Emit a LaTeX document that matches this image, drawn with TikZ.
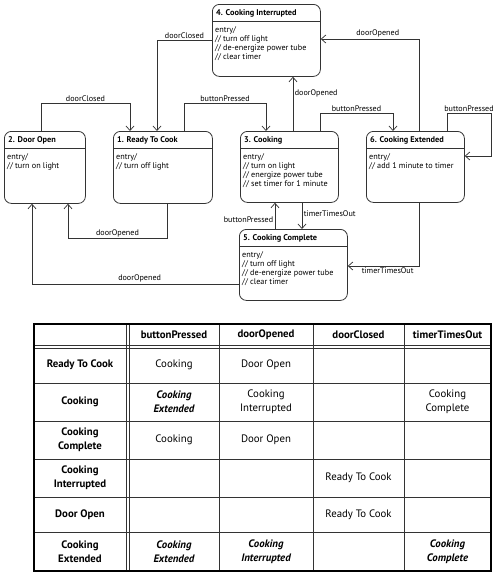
\documentclass[tikz,border=0pt]{standalone}
\usepackage{fontspec}
\setmainfont{PT Sans}
\usetikzlibrary{arrows.meta}
\begin{document}
\begin{tikzpicture}[x=1pt,y=-1pt,
  line/.style={draw=black!80, line width=0.7pt},
  state/.style={draw=black!80, line width=0.8pt, rounded corners=7pt, rectangle, anchor=north west, inner sep=0pt},
  stitle/.style={anchor=west, font=\fontsize{8.3}{9}\selectfont\bfseries, inner sep=0pt},
  sbody/.style={anchor=north west, font=\fontsize{8.2}{9.3}\selectfont, align=left, inner sep=0pt},
  lbl/.style={font=\fontsize{8.1}{9}\selectfont, inner sep=1.5pt},
  tr/.style={line, -{Straight Barb[length=4.5pt,width=8pt]}},
  grid/.style={draw=black!80, line width=0.8pt},
  hd/.style={font=\fontsize{10.8}{14}\selectfont\bfseries, align=center, inner sep=0pt},
  cell/.style={font=\fontsize{10.8}{14}\selectfont, align=center, inner sep=0pt},
  celbi/.style={font=\fontsize{10.8}{14}\selectfont\bfseries\itshape, align=center, inner sep=0pt}
]
\useasboundingbox (0,0) rectangle (500,574);

% ---------- states ----------
\node[state, minimum width=108pt, minimum height=72pt] (s4) at (212,4) {};
\node[state, minimum width=81pt, minimum height=72pt] (s2) at (4,131) {};
\node[state, minimum width=99pt, minimum height=72pt] (s1) at (113,131) {};
\node[state, minimum width=98pt, minimum height=71pt] (s3) at (240,131) {};
\node[state, minimum width=98pt, minimum height=71pt] (s6) at (366,131) {};
\node[state, minimum width=108pt, minimum height=71pt] (s5) at (239,229) {};

\foreach \s in {s1,s2,s3,s4,s5,s6}{
  \draw[line] ([yshift=-17pt]\s.north west) -- ([yshift=-17pt]\s.north east);
}

\node[stitle] (s4t) at ([xshift=4pt,yshift=-9pt]s4.north west) {4. Cooking Interrupted};
\node[stitle] (s2t) at ([xshift=4pt,yshift=-9pt]s2.north west) {2. Door Open};
\node[stitle] (s1t) at ([xshift=4pt,yshift=-9pt]s1.north west) {1. Ready To Cook};
\node[stitle] (s3t) at ([xshift=4pt,yshift=-9pt]s3.north west) {3. Cooking};
\node[stitle] (s6t) at ([xshift=4pt,yshift=-9pt]s6.north west) {6. Cooking Extended};
\node[stitle] (s5t) at ([xshift=4pt,yshift=-9pt]s5.north west) {5. Cooking Complete};

\node[sbody] (s4b) at ([xshift=3pt,yshift=-22pt]s4.north west) {entry/\\// turn off light\\// de-energize power tube\\// clear timer};
\node[sbody] (s2b) at ([xshift=3pt,yshift=-22pt]s2.north west) {entry/\\// turn on light};
\node[sbody] (s1b) at ([xshift=3pt,yshift=-22pt]s1.north west) {entry/\\// turn off light};
\node[sbody] (s3b) at ([xshift=3pt,yshift=-22pt]s3.north west) {entry/\\// turn on light\\// energize power tube\\// set timer for 1 minute};
\node[sbody] (s6b) at ([xshift=3pt,yshift=-22pt]s6.north west) {entry/\\// add 1 minute to timer};
\node[sbody] (s5b) at ([xshift=3pt,yshift=-22pt]s5.north west) {entry/\\// turn off light\\// de-energize power tube\\// clear timer};

% ---------- transitions ----------
\coordinate (a1) at ([yshift=-36pt]s4.north west);
\draw[tr] (a1) -| node[lbl,above,pos=0.25]{doorClosed} ([xshift=44pt]s1.north west);

\draw[tr] ([xshift=37pt]s2.north west) -- ++(0,-28) -| node[lbl,above,pos=0.25]{doorClosed} ([xshift=17pt]s1.north west);

\draw[tr] ([xshift=71pt]s1.north west) -- ++(0,-28) -| node[lbl,above,pos=0.25]{buttonPressed} ([xshift=26pt]s3.north west);

\coordinate (c3a) at ([xshift=53pt]s3.north west);
\draw[tr] (c3a) -- node[lbl,right,pos=0.7]{doorOpened} (c3a |- s4.south);

\coordinate (c6a) at ([xshift=53pt]s6.north west);
\draw[tr] (c6a) |- node[lbl,above,pos=0.71]{doorOpened} ([yshift=-35pt]s4.north east);

\draw[tr] ([xshift=80pt]s3.north west) -- ++(0,-18) -| node[lbl,above,pos=0.25]{buttonPressed} ([xshift=27pt]s6.north west);

\draw[tr] ([xshift=81pt]s6.north west) -- ++(0,-18) -- node[lbl,above]{buttonPressed} ++(44,0) |- ([yshift=-25pt]s6.north east);

\coordinate (c5a) at ([xshift=36pt]s5.north west);
\draw[tr] (c5a) -- node[lbl,left,pos=0.35]{buttonPressed} (c5a |- s3.south);

\coordinate (c3b) at ([xshift=62pt]s3.south west);
\draw[tr] (c3b) -- node[lbl,right,pos=0.4]{timerTimesOut} (c3b |- s5.north);

\draw[tr] ([xshift=53pt]s6.south west) |- node[lbl,below,pos=0.72]{timerTimesOut} ([yshift=-37pt]s5.north east);

\draw[tr] ([xshift=54pt]s1.south west) -- ++(0,35) -| node[lbl,above,pos=0.25]{doorOpened} ([xshift=64pt]s2.south west);

\draw[tr] ([yshift=-55pt]s5.north west) -| node[lbl,above,pos=0.24]{doorOpened} ([xshift=28pt]s2.south west);

% ---------- table ----------
\foreach \xx in {219,313,404}{ \draw[grid] (\xx,324) -- (\xx,571); }
\foreach \xx in {126,129}{ \draw[grid, line width=0.7pt] (\xx,324) -- (\xx,571); }
\foreach \yy in {383,421,459,497,532}{ \draw[grid] (34,\yy) -- (491,\yy); }
\foreach \yy in {345.5,348.5}{ \draw[grid, line width=0.7pt] (34,\yy) -- (491,\yy); }
\draw[line width=2.5pt] (34,324) rectangle (491,571);

\node[hd] (h1) at (174,335) {buttonPressed};
\node[hd] (h2) at (266,335) {doorOpened};
\node[hd] (h3) at (358.5,335) {doorClosed};
\node[hd] (h4) at (447.5,335) {timerTimesOut};

\node[hd] (r1) at (80,365) {Ready To Cook};
\node[hd] (r2) at (80,402) {Cooking};
\node[hd] (r3) at (80,440) {Cooking\\Complete};
\node[hd] (r4) at (80,478) {Cooking\\Interrupted};
\node[hd] (r5) at (80,514.5) {Door Open};
\node[hd] (r6) at (80,551.5) {Cooking\\Extended};

\node[cell] (c11) at (174,365) {Cooking};
\node[cell] (c12) at (266,365) {Door Open};
\node[celbi] (c21) at (174,402) {Cooking\\Extended};
\node[cell] (c22) at (266,402) {Cooking\\Interrupted};
\node[cell] (c24) at (447.5,402) {Cooking\\Complete};
\node[cell] (c31) at (174,440) {Cooking};
\node[cell] (c32) at (266,440) {Door Open};
\node[cell] (c43) at (358.5,478) {Ready To Cook};
\node[cell] (c53) at (358.5,514.5) {Ready To Cook};
\node[celbi] (c61) at (174,551.5) {Cooking\\Extended};
\node[celbi] (c62) at (266,551.5) {Cooking\\Interrupted};
\node[celbi] (c64) at (447.5,551.5) {Cooking\\Complete};
\end{tikzpicture}
\end{document}
